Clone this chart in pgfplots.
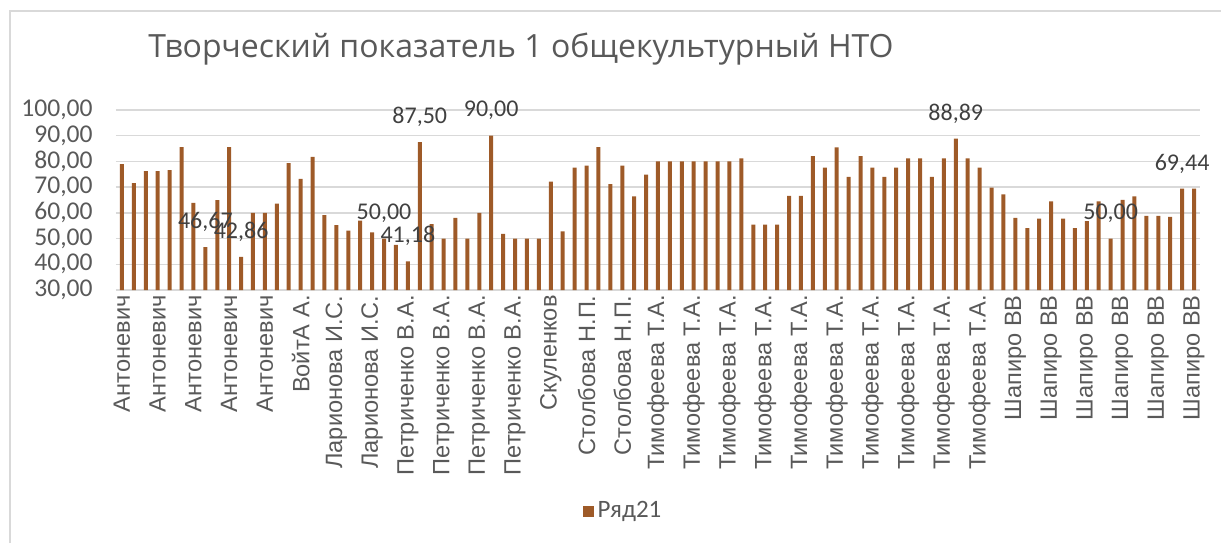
\documentclass[border=0pt]{standalone}
\usepackage{pgfplots}
\usepackage{pgfplotstable}
\pgfplotsset{compat=1.18}
\usepackage{fontspec}
\setmainfont{Carlito}
\newfontfamily\lsans{Liberation Sans}
\newfontfamily\tfont{Open Sans}

\definecolor{barc}{RGB}{158,90,40}
\definecolor{txtc}{RGB}{89,89,89}
\definecolor{lblc}{RGB}{64,64,64}
\definecolor{gridc}{RGB}{217,217,217}

% Ряд21, one row per bar
\pgfplotstableread{
x y lbl
1 79.0 {}
2 71.6 {}
3 76.2 {}
4 76.2 {}
5 76.6 {}
6 85.6 {}
7 63.9 {}
8 46.67 46,67
9 65.0 {}
10 85.6 {}
11 42.86 42,86
12 60.0 {}
13 60.0 {}
14 63.6 {}
15 79.3 {}
16 73.2 {}
17 81.8 {}
18 59.1 {}
19 55.2 {}
20 53.1 {}
21 57.0 {}
22 52.4 {}
23 50.00 50,00
24 47.6 {}
25 41.18 41,18
26 87.50 87,50
27 55.6 {}
28 50.0 {}
29 58.1 {}
30 50.0 {}
31 60.0 {}
32 90.00 90,00
33 51.8 {}
34 50.0 {}
35 50.0 {}
36 50.0 {}
37 72.2 {}
38 52.8 {}
39 77.6 {}
40 78.4 {}
41 85.6 {}
42 71.2 {}
43 78.4 {}
44 66.4 {}
45 74.9 {}
46 80.0 {}
47 80.0 {}
48 80.0 {}
49 80.0 {}
50 80.0 {}
51 80.0 {}
52 80.0 {}
53 81.2 {}
54 55.4 {}
55 55.4 {}
56 55.4 {}
57 66.6 {}
58 66.6 {}
59 82.1 {}
60 77.6 {}
61 85.5 {}
62 74.0 {}
63 82.1 {}
64 77.6 {}
65 74.0 {}
66 77.6 {}
67 81.2 {}
68 81.2 {}
69 74.0 {}
70 81.2 {}
71 88.89 88,89
72 81.2 {}
73 77.6 {}
74 69.8 {}
75 67.2 {}
76 58.1 {}
77 54.1 {}
78 57.8 {}
79 64.5 {}
80 57.8 {}
81 54.1 {}
82 56.8 {}
83 64.5 {}
84 50.00 50,00
85 65.1 {}
86 66.4 {}
87 58.8 {}
88 58.8 {}
89 58.4 {}
90 69.44 69,44
91 69.4 {}
}\ryad

\begin{document}
\begin{tikzpicture}
\path[use as bounding box] (0,0) rectangle (610.5pt,-271.5pt);
\draw[gridc, line width=0.75pt] (5pt,-271.5pt) -- (5pt,-5.5pt) -- (610.5pt,-5.5pt);
\node[anchor=base west, inner sep=0pt, text=txtc, font=\tfont\fontsize{16}{19}\selectfont]
  at (74pt,-28.5pt) {Творческий показатель 1 общекультурный НТО};
\begin{axis}[
    at={(58pt,-145pt)}, anchor=south west,
    width=542pt, height=90pt, scale only axis,
    ybar, bar width=2pt,
    xmin=0.5, xmax=91.5,
    ymin=30, ymax=100,
    ytick={30,40,...,100},
    xtick={1,4,...,91},
    xticklabels={Антоневич,Антоневич,Антоневич,Антоневич,Антоневич,ВойтА А.,
      Ларионова И.С.,Ларионова И.С.,Петриченко В.А.,Петриченко В.А.,Петриченко В.А.,
      Петриченко В.А.,Скуленков,Столбова Н.П.,Столбова Н.П.,
      Тимофеева Т.А.,Тимофеева Т.А.,Тимофеева Т.А.,Тимофеева Т.А.,Тимофеева Т.А.,
      Тимофеева Т.А.,Тимофеева Т.А.,Тимофеева Т.А.,Тимофеева Т.А.,Тимофеева Т.А.,
      Шапиро ВВ,Шапиро ВВ,Шапиро ВВ,Шапиро ВВ,Шапиро ВВ,Шапиро ВВ},
    xticklabel style={rotate=90, anchor=east, inner sep=2.5pt,
      font=\lsans\fontsize{11.8}{13}\selectfont, text=txtc},
    yticklabel style={anchor=east, inner sep=0pt, xshift=-11.5pt,
      font=\fontsize{12.8}{14}\selectfont, text=txtc},
    /pgf/number format/.cd, fixed, fixed zerofill, precision=2, use comma,
      assume math mode=true,
    /pgfplots/.cd,
    ymajorgrids, grid style={gridc, line width=0.75pt},
    axis line style={draw=none},
    major tick length=0pt,
    legend style={at={(0.4686,-1.228)}, anchor=center, draw=none, fill=none,
      font=\fontsize{12.5}{14}\selectfont, text=txtc, inner sep=0pt},
    legend image code/.code={\fill[barc] (0pt,-2.75pt) rectangle (5.5pt,2.75pt);},
]
\addplot[fill=barc, draw=none,
    nodes near coords, point meta=explicit symbolic,
    nodes near coords style={anchor=center, yshift=12.5pt, text=lblc,
      font=\fontsize{12}{14}\selectfont}]
  table[x=x, y=y, meta=lbl] {\ryad};
\addlegendentry{Ряд21}
\end{axis}
\end{tikzpicture}
\end{document}
